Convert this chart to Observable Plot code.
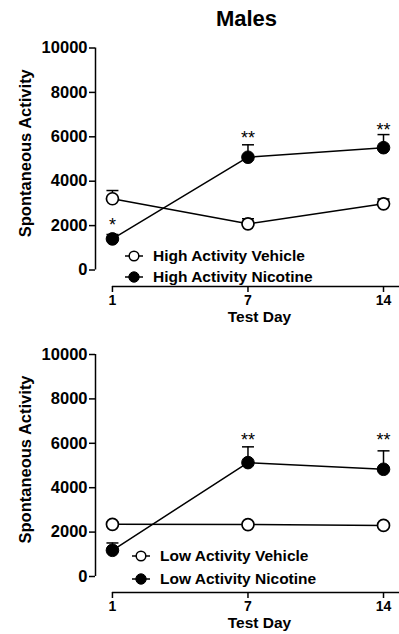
<!DOCTYPE html>
<html>
<head>
<meta charset="utf-8">
<script src="https://cdn.jsdelivr.net/npm/d3@7"></script>
<script src="https://cdn.jsdelivr.net/npm/@observablehq/plot@0.6"></script>
<style>
  html, body { margin: 0; padding: 0; background: #fff; }
  #root { position: relative; width: 399px; height: 634px; overflow: hidden; font-family: "Liberation Sans", Arial, sans-serif; color: #000; }
  .title { position: absolute; left: 95px; width: 303px; top: 6px; text-align: center; font-size: 22px; font-weight: bold; line-height: 26px; }
  .panel { position: absolute; left: 0; }
  .legend { position: absolute; font-size: 15.5px; font-weight: bold; }
  .legend .row { display: flex; align-items: center; height: 21px; }
  .legend svg { display: block; margin-right: 9px; }
</style>
</head>
<body>
<div id="root"></div>
<script>
// ---- data ----
const title = "Males";
const days = [1, 7, 14];
const yTicks = [0, 2000, 4000, 6000, 8000, 10000];
const yLabel = "Spontaneous Activity";
const xLabel = "Test Day";

// High activity panel
const highLabels = ["High Activity Vehicle", "High Activity Nicotine"];
const highVehMean = [3210, 2080, 2980];
const highVehUpper = [3580, 2310, 3200];
const highNicMean = [1400, 5080, 5510];
const highNicUpper = [1600, 5640, 6100];
const highStars = ["*", "**", "**"];
const highStarY = [2220, 6130, 6520];

// Low activity panel
const lowLabels = ["Low Activity Vehicle", "Low Activity Nicotine"];
const lowVehMean = [2350, 2340, 2300];
const lowVehUpper = [2440, 2430, 2390];
const lowNicMean = [1180, 5130, 4830];
const lowNicUpper = [1510, 5840, 5660];
const lowStars = ["", "**", "**"];
const lowStarY = [null, 6360, 6360];

// ---- drawing ----
const root = document.getElementById("root");
const t = document.createElement("div");
t.className = "title";
t.textContent = title;
root.appendChild(t);

const cap = {
  draw(ctx, size) {
    const w = Math.sqrt(size / Math.PI);
    ctx.moveTo(-w, 0);
    ctx.lineTo(w, 0);
  }
};

const xDomain = [-0.125, 2.118];

function panel(cfg) {
  const rows = [];
  days.forEach((d, i) => {
    rows.push({i, group: "Vehicle", mean: cfg.veh[i], upper: cfg.vehUp[i]});
  });
  days.forEach((d, i) => {
    rows.push({i, group: "Nicotine", mean: cfg.nic[i], upper: cfg.nicUp[i]});
  });
  const starRows = days.map((d, i) => ({i, s: cfg.stars[i], y: cfg.starY[i]})).filter(d => d.s);
  const plot = Plot.plot({
    width: 399,
    height: cfg.height,
    marginTop: cfg.mt,
    marginBottom: cfg.mb,
    marginLeft: 95,
    marginRight: 0,
    x: {type: "linear", domain: xDomain},
    y: {domain: [cfg.yMin, d3.max(yTicks)]},
    style: {fontFamily: "'Liberation Sans', Arial, sans-serif", fontWeight: "bold", color: "#000", background: "transparent"},
    marks: [
      Plot.ruleX([xDomain[0]], {y1: d3.min(yTicks), y2: d3.max(yTicks), stroke: "#000", strokeWidth: 1.5}),
      Plot.ruleY([cfg.yMin], {x1: 0, x2: xDomain[1], stroke: "#000", strokeWidth: 1.5}),
      Plot.axisY({ticks: yTicks, tickSize: 6, tickPadding: 2, tickFormat: d => String(d), fontSize: 16.5, strokeWidth: 1.5, label: null}),
      Plot.axisX({ticks: [0, 1, 2], tickSize: 6, tickPadding: 3, tickFormat: i => String(days[i]), fontSize: 14, strokeWidth: 1.5, label: null}),
      Plot.text([xLabel], {frameAnchor: "bottom", dx: 12, dy: 35, fontSize: 15.5, fontWeight: "bold"}),
      Plot.text([yLabel], {frameAnchor: "left", textAnchor: "middle", rotate: -90, dx: -70, dy: -14, fontSize: 16.5, fontWeight: "bold"}),
      Plot.line(rows, {x: "i", y: "mean", z: "group", stroke: "#000", strokeWidth: 1.5}),
      Plot.ruleX(rows, {x: "i", y1: "mean", y2: "upper", stroke: "#000", strokeWidth: 1.5}),
      Plot.dot(rows, {x: "i", y: "upper", symbol: cap, r: 6, stroke: "#000", strokeWidth: 1.5}),
      Plot.dot(rows.filter(d => d.group === "Vehicle"), {x: "i", y: "mean", r: 6, fill: "#fff", stroke: "#000", strokeWidth: 1.7}),
      Plot.dot(rows.filter(d => d.group === "Nicotine"), {x: "i", y: "mean", r: 6.3, fill: "#000", stroke: "#000", strokeWidth: 1}),
      Plot.text(starRows, {x: "i", y: "y", text: "s", fontSize: 18, fontWeight: "normal", dy: 4.5})
    ]
  });
  const wrap = document.createElement("div");
  wrap.className = "panel";
  wrap.style.top = cfg.top + "px";
  wrap.appendChild(plot);
  root.appendChild(wrap);

  // legend
  const lg = document.createElement("div");
  lg.className = "legend";
  lg.style.left = cfg.legendX + "px";
  lg.style.top = cfg.legendY + "px";
  cfg.labels.forEach((lab, k) => {
    const row = document.createElement("div");
    row.className = "row";
    row.style.height = cfg.legendRow + "px";
    const s = d3.create("svg").attr("width", 20).attr("height", 14);
    s.append("line").attr("x1", 1).attr("x2", 19).attr("y1", 7).attr("y2", 7).attr("stroke", "#000").attr("stroke-width", 1.5);
    s.append("circle").attr("cx", 10).attr("cy", 7).attr("r", k === 0 ? 4.8 : 5.2)
      .attr("fill", k === 0 ? "#fff" : "#000").attr("stroke", "#000").attr("stroke-width", k === 0 ? 1.5 : 1);
    row.appendChild(s.node());
    const sp = document.createElement("span");
    sp.textContent = lab;
    row.appendChild(sp);
    lg.appendChild(row);
  });
  root.appendChild(lg);
}

panel({top: 30, height: 300, mt: 17.5, mb: 44, yMin: -743,
  veh: highVehMean, vehUp: highVehUpper, nic: highNicMean, nicUp: highNicUpper,
  stars: highStars, starY: highStarY, labels: highLabels,
  legendX: 124, legendY: 245, legendRow: 21});
panel({top: 330, height: 304, mt: 24, mb: 42, yMin: -721,
  veh: lowVehMean, vehUp: lowVehUpper, nic: lowNicMean, nicUp: lowNicUpper,
  stars: lowStars, starY: lowStarY, labels: lowLabels,
  legendX: 131, legendY: 544, legendRow: 23});
</script>
</body>
</html>
